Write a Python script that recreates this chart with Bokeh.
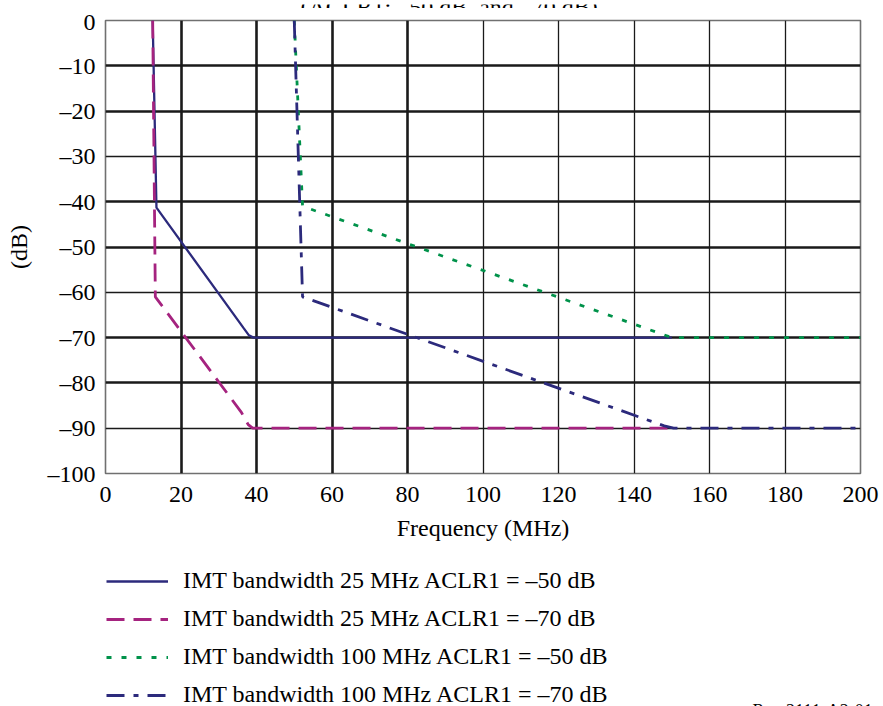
from bokeh.plotting import figure
from bokeh.layouts import column
from bokeh.models import Range1d, FixedTicker, Grid, Legend, LegendItem
from bokeh.core.properties import value
from bokeh.embed import file_html
from bokeh.resources import INLINE

# Interference mask curves (frequency in MHz, attenuation in dB)
freq_25_aclr50 = [12.5, 13.5, 36.5, 38.0, 39.2, 150.0]
db_25_aclr50 = [0.0, -41.3, -67.8, -69.5, -70.0, -70.0]

freq_25_aclr70 = [12.5, 13.2, 36.0, 37.8, 39.0, 150.0]
db_25_aclr70 = [0.0, -61.0, -86.5, -89.2, -90.0, -90.0]

freq_100_aclr50 = [50.0, 52.2, 150.0, 200.0]
db_100_aclr50 = [0.0, -41.0, -70.0, -70.0]

freq_100_aclr70 = [50.0, 52.2, 148.0, 150.5, 200.0]
db_100_aclr70 = [0.0, -61.0, -89.5, -90.0, -90.0]

series_labels = [
    "IMT bandwidth 25 MHz ACLR1 = –50 dB",
    "IMT bandwidth 25 MHz ACLR1 = –70 dB",
    "IMT bandwidth 100 MHz ACLR1 = –50 dB",
    "IMT bandwidth 100 MHz ACLR1 = –70 dB",
]
title_text = "(ACLR1: –50 dB, and –70 dB)"
figure_ref = "Rep 2111-A2-01"

x_ticks = [0, 20, 40, 60, 80, 100, 120, 140, 160, 180, 200]
y_ticks = [0, -10, -20, -30, -40, -50, -60, -70, -80, -90, -100]
y_tick_labels = {t: ("0" if t == 0 else "–%d" % (-t)) for t in y_ticks}

x_grid_major = [20, 40, 60, 80]
x_grid_minor = [100, 120, 140, 160, 180]
y_grid_major = [-10, -20, -40, -50, -70, -80]
y_grid_minor = [-30, -60, -90]

FONT = "Liberation Serif"
NAVY = "#2c2a7c"
MAGENTA = "#a5237f"
GREEN = "#00924a"
GRID = "#1a1a1a"

styles = [
    dict(line_color=NAVY, line_width=2.3, line_dash="solid"),
    dict(line_color=MAGENTA, line_width=2.8, line_dash="18 9"),
    dict(line_color=GREEN, line_width=2.8, line_dash="5 10"),
    dict(line_color=NAVY, line_width=2.8, line_dash="18 9 5 9"),
]
series = [
    (freq_25_aclr50, db_25_aclr50),
    (freq_25_aclr70, db_25_aclr70),
    (freq_100_aclr50, db_100_aclr50),
    (freq_100_aclr70, db_100_aclr70),
]

# ---- strip carrying the (partly hidden) caption line ----
TOP_H = 8
top = figure(width=883, height=TOP_H, output_backend="svg", toolbar_location=None,
             x_range=Range1d(0, 883), y_range=Range1d(0, TOP_H),
             x_axis_type=None, y_axis_type=None,
             min_border_left=0, min_border_right=0,
             min_border_top=0, min_border_bottom=0)
top.frame_align = False
top.outline_line_color = None
top.text(x=[300], y=[6], text=[title_text], text_font=value(FONT),
         text_font_size="24px", text_align="left", text_baseline="alphabetic",
         text_color="black")

# ---- main chart ----
p = figure(width=883, height=552, output_backend="svg", toolbar_location=None,
           x_range=Range1d(0, 200), y_range=Range1d(-100, 0),
           min_border_left=105, min_border_right=23,
           min_border_top=12, min_border_bottom=87)

p.background_fill_color = "white"
p.border_fill_color = "white"
p.outline_line_color = "#707070"
p.outline_line_width = 1.6

p.xgrid.ticker = FixedTicker(ticks=x_grid_major)
p.xgrid.grid_line_color = GRID
p.xgrid.grid_line_width = 2.6
p.ygrid.ticker = FixedTicker(ticks=y_grid_major)
p.ygrid.grid_line_color = GRID
p.ygrid.grid_line_width = 2.6
p.add_layout(Grid(dimension=0, ticker=FixedTicker(ticks=x_grid_minor),
                  grid_line_color=GRID, grid_line_width=1.3))
p.add_layout(Grid(dimension=1, ticker=FixedTicker(ticks=y_grid_minor),
                  grid_line_color=GRID, grid_line_width=1.3))

for ax in (p.xaxis[0], p.yaxis[0]):
    ax.axis_line_color = None
    ax.major_tick_line_color = None
    ax.minor_tick_line_color = None
    ax.major_tick_in = 0
    ax.major_tick_out = 0
    ax.minor_tick_in = 0
    ax.minor_tick_out = 0
    ax.major_label_text_font = FONT
    ax.major_label_text_font_size = "24px"
    ax.major_label_text_color = "black"
    ax.axis_label_text_font = FONT
    ax.axis_label_text_font_size = "24px"
    ax.axis_label_text_font_style = "normal"
    ax.axis_label_text_color = "black"

p.xaxis.ticker = FixedTicker(ticks=x_ticks)
p.xaxis.major_label_standoff = 13
p.xaxis.axis_label = "Frequency (MHz)"
p.xaxis.axis_label_standoff = 10

p.yaxis.ticker = FixedTicker(ticks=y_ticks)
p.yaxis.major_label_overrides = y_tick_labels
p.yaxis.major_label_standoff = 10
p.yaxis.axis_label = "(dB)"
p.yaxis.axis_label_standoff = 13

for (xs, ys), st in zip(series, styles):
    p.line(xs, ys, **st)

# ---- key below the chart ----
LEG_H = 146
lf = figure(width=883, height=LEG_H, output_backend="svg", toolbar_location=None,
            x_range=Range1d(0, 883), y_range=Range1d(0, LEG_H),
            x_axis_type=None, y_axis_type=None,
            min_border_left=0, min_border_right=0,
            min_border_top=0, min_border_bottom=0)
lf.frame_align = False
lf.outline_line_color = None

# hidden copies of the curves, used only as swatches in the key
key_renderers = [lf.line(xs, ys, visible=False, **st)
                 for (xs, ys), st in zip(series, styles)]
item_h = 28
gap = 10
legend_h = 4 * item_h + 3 * gap
legend = Legend(
    items=[LegendItem(label=lab, renderers=[r])
           for lab, r in zip(series_labels, key_renderers)],
    location=(106, LEG_H - 6.7 - legend_h), orientation="vertical",
    glyph_width=62, glyph_height=item_h, label_standoff=15,
    label_text_font=FONT, label_text_font_size="24px", label_text_color="black",
    label_height=item_h, spacing=gap, padding=0, margin=0,
    border_line_color=None, background_fill_alpha=0,
    inactive_fill_alpha=0,
)
lf.add_layout(legend, "center")

lf.text(x=[752], y=[-4], text=[figure_ref], text_font=value(FONT),
        text_font_size="18px", text_align="left", text_baseline="alphabetic",
        text_color="black")

layout = column(top, p, lf, spacing=0)
open("out.html", "w").write(file_html(layout, INLINE))
